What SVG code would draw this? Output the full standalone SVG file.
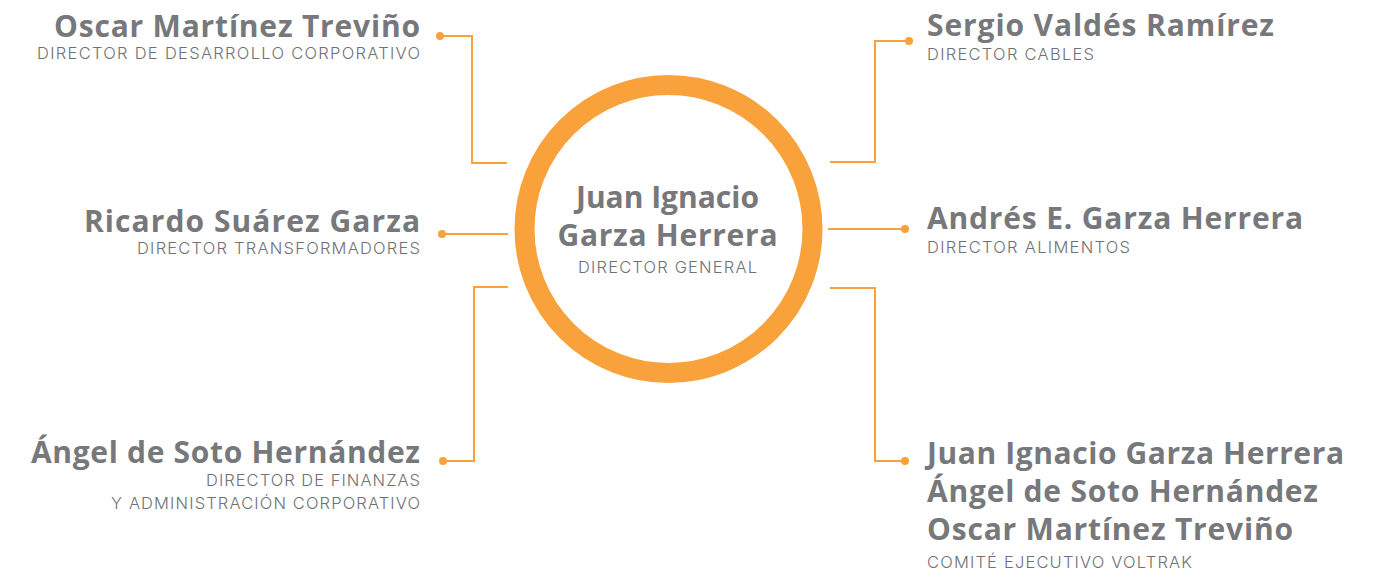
<svg xmlns="http://www.w3.org/2000/svg" width="1382" height="572" viewBox="0 0 1382 572">
<style>
.n{font-family:"Open Sans","Liberation Sans",sans-serif;font-weight:700;font-size:30px;fill:#77787B}
.s{font-family:Inter,"Liberation Sans",sans-serif;font-weight:300;font-size:16.5px;fill:#707175}
.l{fill:none;stroke:#F9A13A;stroke-width:2}
.d{fill:#F9A13A}
.e{text-anchor:end}
.m{text-anchor:middle}
</style>
<rect width="1382" height="572" fill="#fff"/>
<g id="connectors">
<path class="l" d="M440,36 H472 V163 H507"/><circle class="d" cx="440" cy="36" r="4"/>
<path class="l" d="M442,234 H508"/><circle class="d" cx="442" cy="234" r="4"/>
<path class="l" d="M508,287 H474 V461 H443"/><circle class="d" cx="443" cy="461" r="4"/>
<path class="l" d="M830,162 H875 V41 H909"/><circle class="d" cx="909" cy="41" r="4"/>
<path class="l" d="M828,229 H905"/><circle class="d" cx="905" cy="229" r="4"/>
<path class="l" d="M830,288 H875 V461 H905"/><circle class="d" cx="905" cy="461" r="4"/>
</g>
<g id="center">
<circle cx="668.5" cy="229" r="144" fill="#fff" stroke="#F9A13A" stroke-width="20"/>
<text class="n m" x="667.5" y="208" textLength="183">Juan Ignacio</text>
<text class="n m" x="667.5" y="246" textLength="220">Garza Herrera</text>
<text class="s m" x="667.5" y="273" textLength="179">DIRECTOR GENERAL</text>
</g>
<g id="oscar">
<text class="n e" x="420" y="36.5" textLength="366">Oscar Martínez Treviño</text>
<text class="s e" x="420" y="59" textLength="383">DIRECTOR DE DESARROLLO CORPORATIVO</text>
</g>
<g id="ricardo">
<text class="n e" x="420" y="231.5" textLength="336">Ricardo Suárez Garza</text>
<text class="s e" x="420" y="254" textLength="283">DIRECTOR TRANSFORMADORES</text>
</g>
<g id="angel">
<text class="n e" x="420" y="463" textLength="389">Ángel de Soto Hernández</text>
<text class="s e" x="420" y="486" textLength="214">DIRECTOR DE FINANZAS</text>
<text class="s e" x="420" y="509" textLength="309">Y ADMINISTRACIÓN CORPORATIVO</text>
</g>
<g id="sergio">
<text class="n" x="927" y="35.5" textLength="347">Sergio Valdés Ramírez</text>
<text class="s" x="927" y="60" textLength="167">DIRECTOR CABLES</text>
</g>
<g id="andres">
<text class="n" x="927" y="228.5" textLength="376">Andrés E. Garza Herrera</text>
<text class="s" x="927" y="252.5" textLength="203">DIRECTOR ALIMENTOS</text>
</g>
<g id="comite">
<text class="n" x="927" y="463.5" textLength="417">Juan Ignacio Garza Herrera</text>
<text class="n" x="927" y="501.5" textLength="391">Ángel de Soto Hernández</text>
<text class="n" x="927" y="539.5" textLength="366">Oscar Martínez Treviño</text>
<text class="s" x="927" y="568" textLength="265">COMITÉ EJECUTIVO VOLTRAK</text>
</g>
</svg>
